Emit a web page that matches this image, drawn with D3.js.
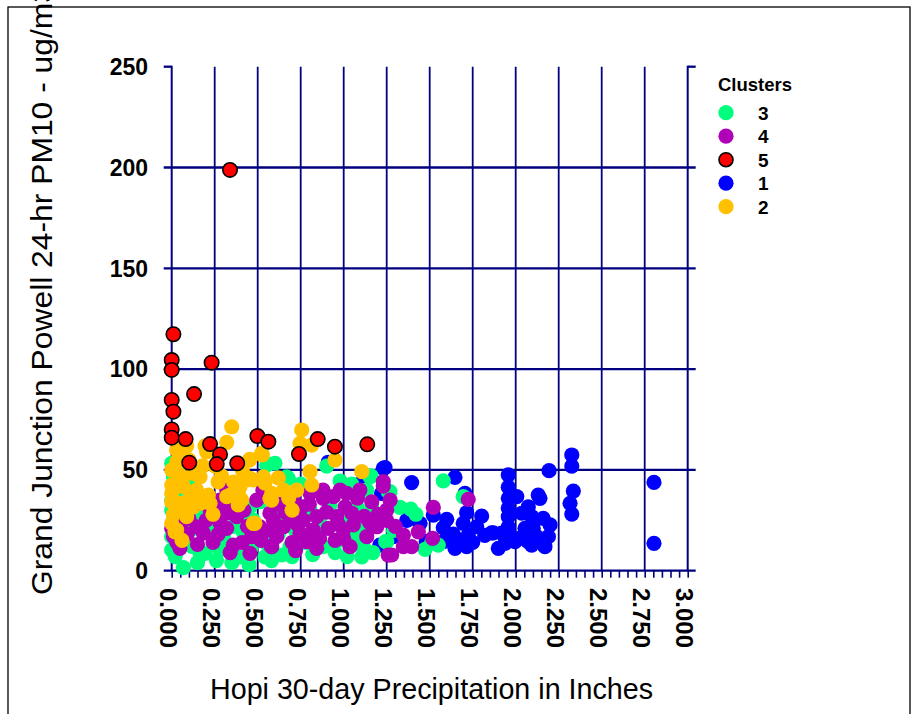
<!DOCTYPE html>
<html>
<head>
<meta charset="utf-8">
<script src="https://cdn.jsdelivr.net/npm/d3@7"></script>
<style>
html,body{margin:0;padding:0;background:#fff;}
svg{display:block;}
text{font-family:"Liberation Sans",Arial,Helvetica,sans-serif;}
</style>
</head>
<body>
<svg id="chart" width="920" height="714"></svg>
<script>
// ---- data (x = Hopi 30-day precipitation, in; y = PM10, ug/m3) ----
const cluster3 = [[0,53.3],[0.01,46.6],[0.106,36.7],[0,35],[0,30.1],[0.01,25.1],[0.048,30.1],[0.223,26],[0.455,31.7],[0.474,25.1],[0.416,19.3],[0.3,16.9],[0.242,12.7],[0.165,8.6],[0.087,14.4],[0,10.3],[0.068,1.5],[0.194,8.6],[0.281,10.3],[0.397,6.9],[0.542,6.9],[0.552,13.6],[0.513,34.2],[0.552,52.4],[0.145,25.1],[0.126,21],[0.252,20.2],[0,16.9],[0.02,7],[0.04,12],[0.12,12],[0.33,13],[0.46,11],[0.36,22],[0.19,31],[0.07,43],[0.06,20],[0.5,20],[0.562,52.9],[0.668,46.6],
[0.26,5],[0.35,4],[0.45,3],[0.58,5],[0.7,7],[0.82,8],[0.95,9],[1.02,7],[0.15,4],[0.4,28],[0.62,18],[0.84,19],[1.06,17],[0.23,21],[0.03,40],[0.13,45],[0.75,43],
[0.678,45.8],[0.901,51.9],[0.979,44.5],[1.047,43],[1.134,40],[1.153,46.6],[0.92,32.6],[1.076,31.7],[1.163,31.7],[1.259,39.2],[0.804,30.1],[0.61,26.8],[1.114,20.2],[0.688,11.9],[0.64,7.8],[0.881,11.9],[0.959,14.4],[1.114,11.9],[1.105,6.9],[1.244,14.4],[0.6,53.3],[1.21,25.1],[0.72,20],[0.86,24],[1.0,27],[0.66,34],[0.77,14],[1.17,9],[1.159,47],
[1.579,44.6],[1.695,36.7],[1.269,39.2],[1.327,31.4],[1.39,30.5],[1.25,14.4],[1.473,10.6],[1.512,13.9],[1.55,12.7],[1.29,20],[1.42,28]];
const cluster4 = [[0.32,40],[0.349,33.4],[0.281,35],[0.271,30.1],[0.32,28.5],[0.378,26.8],[0.281,23.5],[0.145,21.8],[0.184,18.6],[0,21],[0.01,17],[0.048,11.1],[0.32,21],[0.358,12.7],[0.455,8.6],[0.465,16.9],[0.513,21.8],[0.581,11.9],[0.494,35],[0.571,28.5],[0.223,30.1],[0.1,26],[0.24,14],[0.42,30],[0.53,40],[0.03,14],[0.06,24],[0.2,25],[0.44,22],[0.38,38],
[0.27,18],[0.34,9],[0.41,14],[0.52,15],[0.15,13],[0.09,18],[0.58,20],
[0.707,36.7],[0.756,31.7],[0.804,38.4],[0.881,35.9],[0.94,36.7],[1.017,38.4],[1.008,31.7],[1.047,28.5],[0.959,26.8],[0.843,26.8],[0.765,25.1],[0.688,26.8],[0.649,21.8],[0.746,18.6],[0.823,20.2],[0.91,21],[0.998,20.2],[1.056,22.7],[1.134,16.9],[1.192,21.8],[0.591,25.1],[0.61,16.9],[0.581,11.9],[0.785,14.4],[0.843,11.1],[1.037,11.9],[1.259,7.7],[1.163,34.2],[1.094,40],[0.979,40],[1.23,44.2],[0.86,16],[0.95,15],[1.12,27],[0.7,14],
[0.62,33],[0.66,29],[0.73,23],[0.8,33],[0.9,29],[0.97,23],[1.08,36],[1.15,24],[0.88,40],[1.2,28],[0.72,10],[1.0,16],[1.27,35],
[1.23,42],[1.25,30.1],[1.25,25],[1.521,31.4],[1.434,19.3],[1.347,17.7],[1.395,11.9],[1.347,11.9],[1.279,7.8],[1.724,35.4],[1.517,16],[1.3,22]];
const cluster5 = [[0.339,198.8],[0.01,117.3],[0,104.5],[0,99.6],[0.232,103.2],[0.13,87.6],[0,84.7],[0.01,78.9],[0,70.1],[0,66],[0.081,65.3],[0.223,62.8],[0.281,57.7],[0.262,52.9],[0.102,53.6],[0.381,53.3],[0.498,66.8],[0.562,64],[0.74,57.9],[0.849,65.3],[0.949,61.5],[1.137,62.7]];
const cluster1 = [[1.395,43.7],[1.647,46.3],[1.705,38.4],[1.715,28.8],[1.599,25.5],[1.579,21.3],[1.376,25.5],[1.444,23.5],[1.521,27.6],[1.695,23.5],[1.637,18.2],[1.724,17.7],[1.773,21.8],[1.802,27.1],[1.579,14.4],[1.647,11.1],[1.715,11.9],[1.86,18.8],[1.899,11.1],[1.957,47.5],[1.957,41.4],[1.957,35.9],[1.957,31],[1.957,26.8],[1.957,21.8],[1.918,18.6],[1.967,17.7],[1.938,13.6],[1.996,14.4],[2.006,36.7],[2.035,28.5],[2.073,31.7],[2.054,21],[2.093,12.7],[2.102,21],[2.093,26.8],[2.131,37.5],[2.141,35.9],[2.16,26],[2.2,22.7],[2.19,16.9],[2.17,11.9],[2.194,49.6],[2.326,57.4],[2.326,51.9],[2.335,39.5],[2.316,33.4],[2.326,28.1],[2.804,43.8],[2.804,13.6],[1.24,51.1],[1.87,18.8],[1.288,16.9],[1.23,38.4],[0.91,53.8],[1.23,50.8],[1.105,43.7],[1.22,38.4],[0.833,16.9],[1.037,15.2],[1.21,12.7],[0.542,17.7],[1.366,25],[1.48,14.5],[1.66,15.5],[1.75,14],[2.02,16],[2.12,17],[2.07,14.5],[1.82,17.5]];
const cluster2 = [[0.349,71.4],[0.32,63.7],[0.194,61.9],[0.203,59],[0.077,62.3],[0.029,59.9],[0.455,55.2],[0.523,58.2],[0,49.9],[0.048,47.5],[0.126,48.3],[0.165,46.6],[0,42.5],[0,38.4],[0.068,41.7],[0.145,40],[0.213,37.5],[0.32,36.7],[0.387,38.4],[0.455,45.8],[0.533,46.6],[0.571,35.9],[0.397,41.7],[0,34.2],[0.048,33.4],[0.126,31.7],[0.165,33.4],[0.223,33.4],[0.407,35],[0.087,29.3],[0,23.5],[0.019,19.3],[0.484,23.5],[0.474,45],[0.756,69.8],[0.746,63.2],[0.814,62.3],[0.949,54.9],[0.804,49.1],[0.814,42.5],[0.727,40],[1.105,49.1],[0.581,38.4],[0.087,61.9],[0.039,59.9],[0.527,57.4],[0.451,54.9],[0.542,43.4],[0.581,35],[0.436,45],[0.339,37.5],[0.387,32.6],[0.087,26.8],[0.029,20.2],[0.474,23.5],[0.1,55],[0.03,54],[0.06,45],[0.11,37],[0.27,44],[0.7,30],
[0.25,52],[0.29,47],[0.41,50],[0.62,46],[0.65,40],[0.68,36],[0.24,28],[0.06,15],[0.01,28],[0.18,52],[0.36,44]];

const legendNames = ["3","4","5","1","2"];
const legendColors = ["#00FF7F","#B000B8","#FF0000","#0000FF","#FFC000"];
const xTickValues = [0,0.25,0.5,0.75,1,1.25,1.5,1.75,2,2.25,2.5,2.75,3];
const yTickValues = [0,50,100,150,200,250];
const xTitle = "Hopi 30-day Precipitation in Inches";
const yTitle = "Grand Junction Powell 24-hr PM10 - ug/m3";
const legendTitle = "Clusters";

// ---- drawing ----
const svg = d3.select("#chart");
const navy = "#000080";
const x = d3.scaleLinear().domain([0,3]).range([171.7,687.7]);
const y = d3.scaleLinear().domain([0,250]).range([570.7,66.7]);

svg.append("rect").attr("x",8).attr("y",7).attr("width",902).attr("height",730)
  .attr("fill","none").attr("stroke","#000").attr("stroke-width",1.3);

const g = svg.append("g");
g.selectAll("line.vg").data(xTickValues.slice(1,-1)).join("line")
  .attr("x1",d=>x(d)).attr("x2",d=>x(d)).attr("y1",y(250)).attr("y2",y(0))
  .attr("stroke",navy).attr("stroke-width",1.8);
g.selectAll("line.hg").data(yTickValues.slice(1,-1)).join("line")
  .attr("x1",x(0)-8).attr("x2",x(3)+8).attr("y1",d=>y(d)).attr("y2",d=>y(d))
  .attr("stroke",navy).attr("stroke-width",2.3);
g.append("line").attr("x1",x(0)-8).attr("x2",x(0)).attr("y1",y(250)).attr("y2",y(250)).attr("stroke",navy).attr("stroke-width",2.3);
g.append("line").attr("x1",x(3)).attr("x2",x(3)+8).attr("y1",y(250)).attr("y2",y(250)).attr("stroke",navy).attr("stroke-width",2.3);
g.append("line").attr("x1",x(0)).attr("x2",x(0)).attr("y1",y(250)-1).attr("y2",y(0)).attr("stroke",navy).attr("stroke-width",2);
g.append("line").attr("x1",x(3)).attr("x2",x(3)).attr("y1",y(250)-1).attr("y2",y(0)).attr("stroke",navy).attr("stroke-width",2);

const xAxis = d3.axisBottom(x).tickValues(d3.range(0,61).map(i=>i*0.05)).tickSize(7).tickFormat("");
const ax = svg.append("g").attr("transform",`translate(0,${y(0)})`).call(xAxis);
ax.select(".domain").remove();
ax.selectAll(".tick line").attr("stroke",navy).attr("stroke-width",1.6);
svg.append("line").attr("x1",x(0)-8).attr("x2",x(3)+8).attr("y1",y(0)).attr("y2",y(0)).attr("stroke",navy).attr("stroke-width",2.3);

svg.selectAll("text.yl").data(yTickValues).join("text")
  .attr("x",148).attr("y",d=>y(d)).attr("dy","0.36em").attr("text-anchor","end")
  .attr("font-size",23).attr("font-weight","bold").attr("fill","#000").text(d=>d);
svg.selectAll("text.xl").data(xTickValues).join("text")
  .attr("transform",d=>`translate(${x(d)-3},588) rotate(90)`)
  .attr("dy","0.36em").attr("text-anchor","start")
  .attr("font-size",24).attr("font-weight","bold").attr("fill","#000").text(d=>d.toFixed(3));

svg.append("text").attr("x",210).attr("y",699).attr("font-size",30)
  .attr("textLength",443).attr("lengthAdjust","spacingAndGlyphs").text(xTitle);
svg.append("text").attr("transform","translate(52,595) rotate(-90)").attr("font-size",30)
  .attr("textLength",610).attr("lengthAdjust","spacingAndGlyphs").text(yTitle);

const r = 7.6;
function drawPts(data,color,stroke){
  svg.append("g").selectAll("circle").data(data).join("circle")
    .attr("cx",d=>x(d[0])).attr("cy",d=>y(d[1])).attr("r",stroke?7.2:r)
    .attr("fill",color).attr("stroke",stroke?"#000":"none").attr("stroke-width",stroke?1.6:0);
}
drawPts(cluster1,legendColors[3],false);
drawPts(cluster3,legendColors[0],false);
drawPts(cluster4,legendColors[1],false);
drawPts(cluster2,legendColors[4],false);
drawPts(cluster5,legendColors[2],true);

svg.append("text").attr("x",718).attr("y",90.5).attr("font-size",18.5).attr("font-weight","bold").text(legendTitle);
const lg = svg.append("g").selectAll("g").data(legendNames).join("g")
  .attr("transform",(d,i)=>`translate(0,${112.7+i*23.5})`);
lg.append("circle").attr("cx",726).attr("cy",0).attr("r",(d,i)=>i===2?7:7.6)
  .attr("fill",(d,i)=>legendColors[i]).attr("stroke",(d,i)=>i===2?"#000":"none").attr("stroke-width",1.6);
lg.append("text").attr("x",758).attr("dy","0.36em").attr("font-size",19).attr("font-weight","bold").text(d=>d);
</script>
</body>
</html>
